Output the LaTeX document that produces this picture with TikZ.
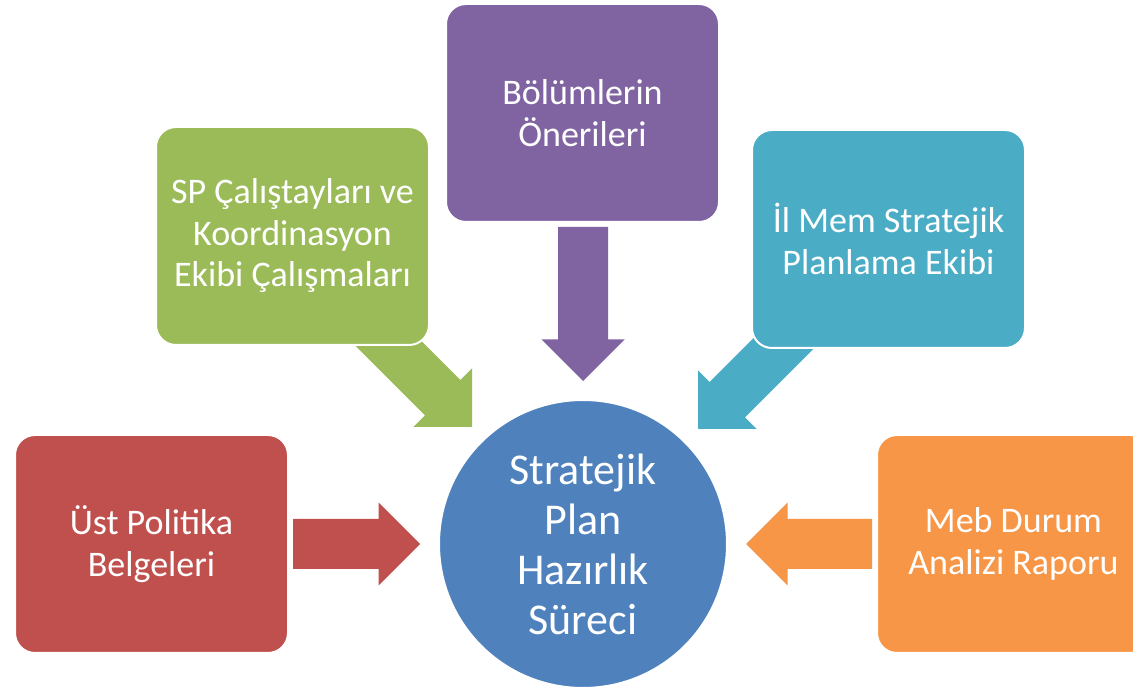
\documentclass[tikz,border=0pt]{standalone}
\usepackage{fontspec}
\setmainfont{Carlito}
\definecolor{cred}{HTML}{C0504D}
\definecolor{cgreen}{HTML}{9BBB59}
\definecolor{cpurple}{HTML}{8064A2}
\definecolor{caqua}{HTML}{4BACC6}
\definecolor{corange}{HTML}{F79646}
\definecolor{cblue}{HTML}{4F81BD}
\newcommand\blockarrow[4]{% colour, tip, angle, length
  \fill[#1, shift={(#2)}, rotate=#3] (0,0) -- (-41.5,41.5) -- (-41.5,25) -- (-#4,25)
    -- (-#4,-25) -- (-41.5,-25) -- (-41.5,-41.5) -- cycle;}
\begin{document}
\begin{tikzpicture}[x=1pt,y=1pt,
  box/.style={rectangle, rounded corners=20pt, minimum width=273pt, minimum height=218pt,
    draw=white, line width=2pt, text=white, align=center, inner sep=0pt,
    font=\fontsize{36}{41.5}\selectfont},
  hub/.style={circle, minimum size=288pt, inner sep=0pt, draw=white, line width=2pt,
    fill=cblue, text=white, align=center, font=\fontsize{44}{50}\selectfont}]
\useasboundingbox (0,0) rectangle (1133,691);
\fill[white] (0,0) rectangle (1133,691);
% arrow tips
\coordinate (redtip) at (420,147);
\coordinate (orangetip) at (746,147);
\coordinate (purpletip) at (583,310);
\coordinate (greentip) at (472,264);
\coordinate (aquatip) at (698,262);
% block arrows
\blockarrow{cred}{redtip}{0}{127}
\blockarrow{corange}{orangetip}{180}{126}
\blockarrow{cpurple}{purpletip}{-90}{154}
\blockarrow{cgreen}{greentip}{-45}{150}
\blockarrow{caqua}{aquatip}{-135}{150}
% boxes
\node[box, fill=cred] (ust) at (151.5,147) {Üst Politika\\Belgeleri};
\node[box, fill=cgreen] (sp) at (292.5,455) {SP Çalıştayları ve\\Koordinasyon\\Ekibi Çalışmaları};
\node[box, fill=cpurple] (bol) at (582.5,578) {Bölümlerin\\Önerileri};
\node[box, fill=caqua] (il) at (888.5,452) {İl Mem Stratejik\\Planlama Ekibi};
\node[box, fill=corange] (meb) at (1013.5,147) {Meb Durum\\Analizi Raporu};
% hub
\node[hub] (hub) at (583,147) {Stratejik\\Plan\\Hazırlık\\Süreci};
\end{tikzpicture}
\end{document}
